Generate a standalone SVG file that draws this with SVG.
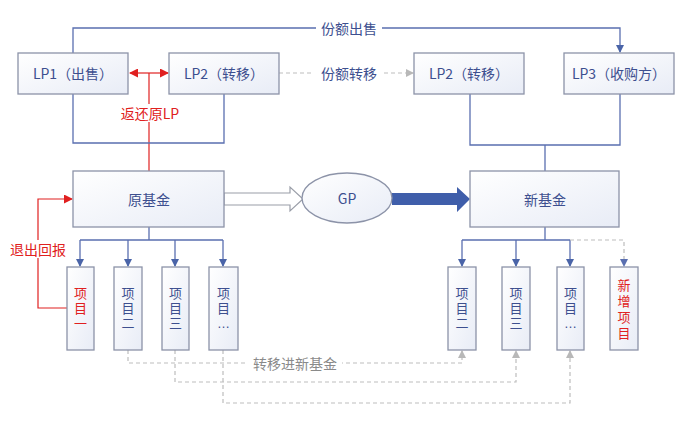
<svg xmlns="http://www.w3.org/2000/svg" width="700" height="425" viewBox="0 0 700 425">
<defs>
<linearGradient id="bg" x1="0" y1="0" x2="1" y2="1">
<stop offset="0" stop-color="#ffffff"/><stop offset="1" stop-color="#e8ecf6"/>
</linearGradient>
<marker id="ab" markerWidth="8" markerHeight="8" refX="7" refY="4" orient="auto" markerUnits="userSpaceOnUse"><path d="M0,0 L8,4 L0,8 Z" fill="#4a64a8"/></marker>
<marker id="ar" markerWidth="9" markerHeight="9" refX="8" refY="4.5" orient="auto" markerUnits="userSpaceOnUse"><path d="M0,0 L9,4.5 L0,9 Z" fill="#e02020"/></marker>
<marker id="ag" markerWidth="8" markerHeight="8" refX="7" refY="4" orient="auto" markerUnits="userSpaceOnUse"><path d="M0,0 L8,4 L0,8 Z" fill="#b8b8b8"/></marker>
</defs>
<style>
.box{fill:url(#bg);stroke:#8c93a8;stroke-width:1.3}
.t{font-family:"Noto Sans CJK SC","Liberation Sans",sans-serif;font-size:14px;fill:#3d4f8f;text-anchor:middle;dominant-baseline:central}
.v{font-family:"Liberation Sans","Noto Sans CJK SC",sans-serif;font-size:13px}
.r{fill:#e02020}
.g{fill:#8a8a8a}
.bl{fill:none;stroke:#5a6fb0;stroke-width:1.3}
.rl{fill:none;stroke:#e02020;stroke-width:1.2}
.gl{fill:none;stroke:#bdbdbd;stroke-width:1.2;stroke-dasharray:4 3}
</style>
<rect width="700" height="425" fill="#ffffff"/>
<g id="connectors">
<path class="bl" d="M73,53 V28 H620 V52" marker-end="url(#ab)"/>
<rect x="316" y="19" width="66" height="18" fill="#fff"/>
<path class="gl" d="M279,73 H413" marker-end="url(#ag)"/>
<rect x="314" y="64" width="70" height="18" fill="#fff"/>
<path class="rl" d="M149,73 H130" marker-end="url(#ar)"/>
<path class="rl" d="M149,73 H168" marker-end="url(#ar)"/>
<path class="rl" d="M149,73 V171"/>
<path class="bl" d="M73,94 V143 H224 V94"/>
<rect x="114" y="104" width="72" height="18" fill="#fff"/>
<path class="bl" d="M470,94 V145 H620 V94 M545,145 V171"/>
<path d="M224,193 H290 V187 L303,199 L290,211 V205 H224 Z" fill="#fff" stroke="#9a9ea8" stroke-width="1.2"/>
<path d="M392,193 H457 V187 L470,199 L457,212 V205 H392 Z" fill="#3f5eaa"/>
<path class="bl" d="M149,227 V240 M80,240 H223"/>
<path class="bl" d="M80,240 V266" marker-end="url(#ab)"/>
<path class="bl" d="M128,240 V266" marker-end="url(#ab)"/>
<path class="bl" d="M175,240 V266" marker-end="url(#ab)"/>
<path class="bl" d="M223,240 V266" marker-end="url(#ab)"/>
<path class="bl" d="M545,227 V240 M462,240 H570"/>
<path class="bl" d="M462,240 V266" marker-end="url(#ab)"/>
<path class="bl" d="M516,240 V266" marker-end="url(#ab)"/>
<path class="bl" d="M570,240 V266" marker-end="url(#ab)"/>
<path class="gl" d="M570,240 H624 V265" stroke="#9aa0b8"/>
<path d="M620,259 L624,267 L628,259 Z" fill="#5a6fb0"/>
<path class="rl" d="M67,308 H38 V199 H72" marker-end="url(#ar)"/>
<rect x="6" y="240" width="64" height="18" fill="#fff"/>
<path class="gl" d="M128,350 V363 H462 V351" marker-end="url(#ag)"/>
<path class="gl" d="M175,350 V382 H516 V351" marker-end="url(#ag)"/>
<path class="gl" d="M223,350 V403 H570 V351" marker-end="url(#ag)"/>
<rect x="248" y="354" width="94" height="18" fill="#fff"/>
</g>
<g id="labels">
<text class="t" x="349" y="28">份额出售</text>
<text class="t" x="349" y="73">份额转移</text>
<text class="t r" x="150" y="113">返还原LP</text>
<text class="t r" x="38" y="249">退出回报</text>
<text class="t g" x="295" y="363">转移进新基金</text>
</g>
<g id="lp1"><rect class="box" x="18" y="53" width="110" height="41"/><text class="t" x="73" y="73">LP1（出售）</text></g>
<g id="lp2"><rect class="box" x="169" y="53" width="110" height="41"/><text class="t" x="224" y="73">LP2（转移）</text></g>
<g id="lp2b"><rect class="box" x="414" y="53" width="110" height="41"/><text class="t" x="469" y="73">LP2（转移）</text></g>
<g id="lp3"><rect class="box" x="564" y="53" width="110" height="41"/><text class="t" x="619" y="73">LP3（收购方）</text></g>
<g id="oldfund"><rect class="box" x="73" y="171" width="151" height="56"/><text class="t" x="149" y="199">原基金</text></g>
<g id="gp"><ellipse cx="347" cy="198" rx="45" ry="25" fill="url(#bg)" stroke="#8c93a8" stroke-width="1.3"/><text class="t" x="347" y="198">GP</text></g>
<g id="newfund"><rect class="box" x="470" y="171" width="149" height="56"/><text class="t" x="545" y="199">新基金</text></g>
<g id="p1"><rect class="box" x="67" y="267" width="27" height="83"/><text class="t v r" x="80.5" y="293">项</text><text class="t v r" x="80.5" y="308">目</text><text class="t v r" x="80.5" y="323">一</text></g>
<g id="p2"><rect class="box" x="114" y="267" width="28" height="83"/><text class="t v" x="128" y="293">项</text><text class="t v" x="128" y="308">目</text><text class="t v" x="128" y="323">二</text></g>
<g id="p3"><rect class="box" x="162" y="267" width="27" height="83"/><text class="t v" x="175.5" y="293">项</text><text class="t v" x="175.5" y="308">目</text><text class="t v" x="175.5" y="323">三</text></g>
<g id="p4"><rect class="box" x="209" y="267" width="29" height="83"/><text class="t v" x="223.5" y="293">项</text><text class="t v" x="223.5" y="308">目</text><text class="t v" x="223.5" y="323">…</text></g>
<g id="n2"><rect class="box" x="448" y="267" width="28" height="83"/><text class="t v" x="462" y="293">项</text><text class="t v" x="462" y="308">目</text><text class="t v" x="462" y="323">二</text></g>
<g id="n3"><rect class="box" x="502" y="267" width="28" height="83"/><text class="t v" x="516" y="293">项</text><text class="t v" x="516" y="308">目</text><text class="t v" x="516" y="323">三</text></g>
<g id="n4"><rect class="box" x="557" y="267" width="27" height="83"/><text class="t v" x="570.5" y="293">项</text><text class="t v" x="570.5" y="308">目</text><text class="t v" x="570.5" y="323">…</text></g>
<g id="n5"><rect class="box" x="610" y="267" width="28" height="83"/><text class="t v r" x="624" y="285">新</text><text class="t v r" x="624" y="301">增</text><text class="t v r" x="624" y="317">项</text><text class="t v r" x="624" y="333">目</text></g>
</svg>
